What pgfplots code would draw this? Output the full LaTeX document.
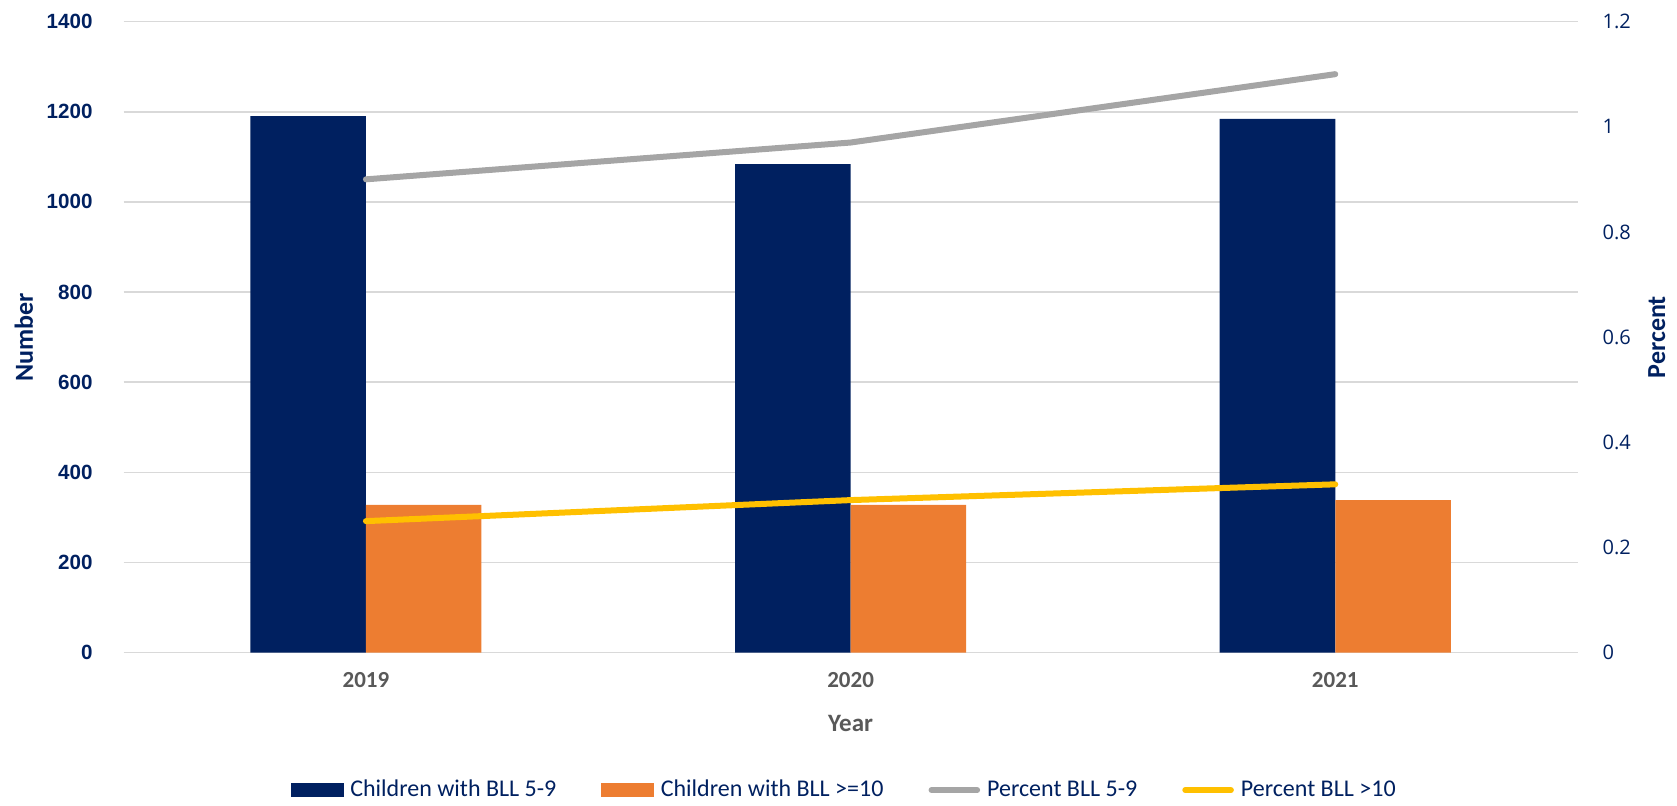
\documentclass[border=0pt]{standalone}
\usepackage{fontspec}
\setmainfont{Carlito}
\newfontfamily\arialf{Liberation Sans}
\newfontfamily\opensans{Open Sans}
\usepackage{pgfplots}
\pgfplotsset{compat=1.18}
\definecolor{navy}{HTML}{002060}
\definecolor{barorange}{HTML}{ED7D31}
\definecolor{linegray}{HTML}{A5A5A5}
\definecolor{lineyellow}{HTML}{FFC000}
\definecolor{gridgray}{HTML}{D9D9D9}
\definecolor{labelgray}{HTML}{595959}

\begin{document}
\begin{tikzpicture}
\useasboundingbox (-61.8pt,-76.7pt) rectangle ++(838.5pt,403pt);
% bars, left axis
\begin{axis}[
  at={(0,0)}, anchor=south west,
  scale only axis, width=727pt, height=315.5pt,
  xmin=-0.5, xmax=2.5, ymin=0, ymax=1400,
  axis line style={draw=none},
  major tick length=0pt,
  xtick={0,1,2}, xticklabels={2019,2020,2021},
  ytick={0,200,400,600,800,1000,1200,1400},
  ymajorgrids, grid style={gridgray, line width=0.8pt},
  /pgf/number format/assume math mode=true,
  /pgf/number format/1000 sep={},
  yticklabel style={font=\arialf\bfseries\fontsize{10.3}{12}\selectfont, text=navy, xshift=-12pt},
  xticklabel style={font=\bfseries\fontsize{11.5}{13}\selectfont, text=labelgray, anchor=center, yshift=-13.5pt},
  xlabel={Year},
  every axis x label/.style={at={(axis description cs:0.5,-0.112)}, anchor=center,
    font=\bfseries\fontsize{12.5}{14}\selectfont, text=labelgray},
  ylabel={Number},
  every axis y label/.style={at={(axis description cs:-0.0686,0.5)}, rotate=90, anchor=center,
    font=\bfseries\fontsize{13}{15}\selectfont, text=navy},
]
\addplot[ybar, bar width=0.2384, bar shift=-0.1192, fill=navy, draw=none]
  coordinates {(0,1190) (1,1084) (2,1184)};
\addplot[ybar, bar width=0.2384, bar shift=0.1192, fill=barorange, draw=none]
  coordinates {(0,328) (1,328) (2,338)};
\end{axis}
% lines, right axis
\begin{axis}[
  at={(0,0)}, anchor=south west,
  scale only axis, width=727pt, height=315.5pt,
  xmin=-0.5, xmax=2.5, ymin=0, ymax=1.2,
  axis y line*=right, axis x line=none,
  axis line style={draw=none},
  major tick length=0pt,
  ytick={0,0.2,0.4,0.6,0.8,1,1.2},
  /pgf/number format/assume math mode=true,
  yticklabel style={font=\opensans\fontsize{10}{12}\selectfont, text=navy, xshift=9pt},
  ylabel={Percent},
  every axis y label/.style={at={(axis description cs:1.0545,0.5)}, rotate=90, anchor=center,
    font=\bfseries\fontsize{13}{15}\selectfont, text=navy},
  legend columns=4,
  legend style={at={(axis description cs:0.496,-0.218)}, anchor=center, draw=none, fill=none,
    font=\fontsize{12}{14}\selectfont, text=navy, nodes={inner sep=1.5pt},
    /tikz/every odd column/.append style={column sep=2pt},
    /tikz/every even column/.append style={column sep=21pt}},
]
\addlegendimage{legend image code/.code={\fill[navy] (0pt,-3.3pt) rectangle (25.8pt,3.3pt);}}
\addlegendentry{Children with BLL 5-9}
\addlegendimage{legend image code/.code={\fill[barorange] (0pt,-3.3pt) rectangle (25.8pt,3.3pt);}}
\addlegendentry{Children with BLL >=10}
\addplot[linegray, line width=3pt, line cap=round,
  legend image code/.code={\draw[linegray, line width=3pt, line cap=round] (1.5pt,0pt) -- (24.3pt,0pt);}]
  coordinates {(0,0.90) (1,0.97) (2,1.10)};
\addlegendentry{Percent BLL 5-9}
\addplot[lineyellow, line width=3pt, line cap=round,
  legend image code/.code={\draw[lineyellow, line width=3pt, line cap=round] (1.5pt,0pt) -- (24.3pt,0pt);}]
  coordinates {(0,0.25) (1,0.29) (2,0.32)};
\addlegendentry{Percent BLL >10}
\end{axis}
\end{tikzpicture}
\end{document}
